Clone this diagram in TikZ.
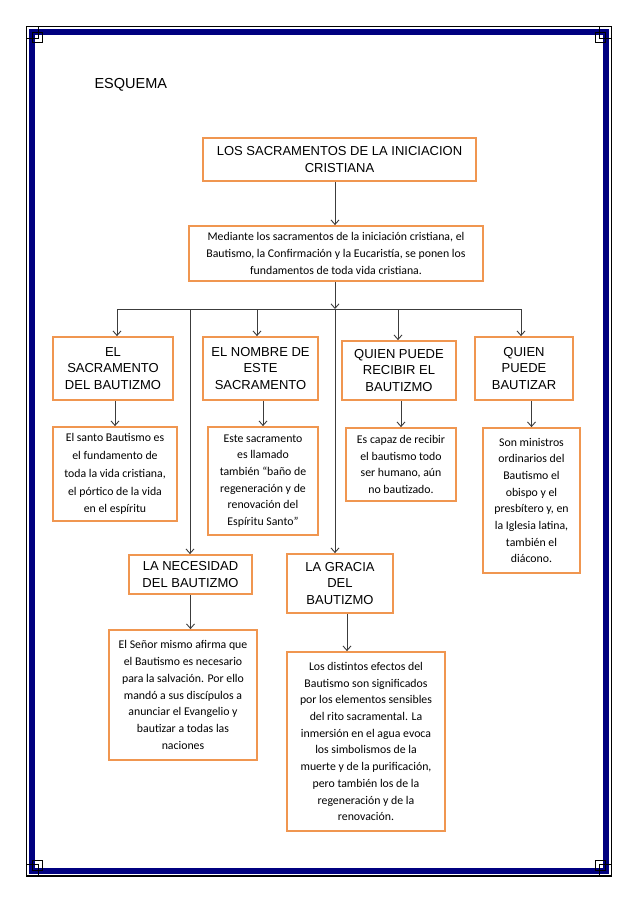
\documentclass[tikz,border=0pt]{standalone}
\usepackage{fontspec}
\usepackage{xcolor}
\usepackage{tikz}
\usetikzlibrary{arrows.meta,positioning}

\newfontfamily\arialf{Liberation Sans}
\newfontfamily\calibrif{Carlito}

\definecolor{boxorange}{RGB}{240,150,80}
\definecolor{framenavy}{RGB}{0,0,128}
\definecolor{lingray}{RGB}{60,60,60}

\tikzset{
  headbox/.style={draw=boxorange, line width=1.8pt, fill=white, align=center, inner sep=0pt,
    font=\arialf\fontsize{13}{16.7}\selectfont},
  notebox/.style={draw=boxorange, line width=1.8pt, fill=white, align=center, inner sep=0pt,
    font=\calibrif\fontsize{11.8}{16.7}\selectfont},
  arr/.style={draw=lingray, line width=0.9pt, -{Straight Barb[length=4.5pt,width=8pt]}},
  bus/.style={draw=lingray, line width=0.9pt}
}

\begin{document}
\begin{tikzpicture}[x=1pt,y=-1pt]

\useasboundingbox (0,0) rectangle (638,903);

% Page border
\draw[line width=1.2pt] (26.5,26.5) rectangle (611.5,876);
\draw[framenavy, line width=6pt] (32,32) rectangle (606,871);
\foreach \cx/\cy/\sx/\sy in {26.5/26.5/1/1, 611.5/26.5/-1/1, 26.5/876/1/-1, 611.5/876/-1/-1}{
  \draw[line width=1pt] (\cx,\cy) rectangle ++({12*\sx},{12*\sy});
  \draw[line width=1pt] ({\cx+6*\sx},{\cy+6*\sy}) rectangle ++({10*\sx},{10*\sy});
}

% Title
\node[anchor=west, font=\arialf\fontsize{14.5}{17}\selectfont] (esquema) at (91,85) {ESQUEMA};

% Top boxes
\node[headbox, minimum width=273pt, minimum height=43pt] (top) at (339.5,159.5)
  {LOS SACRAMENTOS DE LA INICIACION\\CRISTIANA};
\node[notebox, minimum width=294pt, minimum height=55pt] (mediante) at (336,253.5)
  {Mediante los sacramentos de la iniciación cristiana, el\\Bautismo, la Confirmación y la Eucaristía, se ponen los\\fundamentos de toda vida cristiana.};

% First row
\node[headbox, minimum width=120pt, minimum height=63pt] (sacr) at (113,368.5)
  {EL\\SACRAMENTO\\DEL BAUTIZMO};
\node[headbox, minimum width=115pt, minimum height=63pt] (nombre) at (260.5,368.5)
  {EL NOMBRE DE\\ESTE\\SACRAMENTO};
\node[headbox, minimum width=114pt, minimum height=59pt] (recibir) at (399,370.5)
  {QUIEN PUEDE\\RECIBIR EL\\BAUTIZMO};
\node[headbox, minimum width=98pt, minimum height=63pt] (bautizar) at (524,368.5)
  {QUIEN\\PUEDE\\BAUTIZAR};

\node[notebox, minimum width=124pt, minimum height=94pt, font=\calibrif\fontsize{11.8}{17.9}\selectfont] (sacrtxt) at (115,474)
  {El santo Bautismo es\\el fundamento de\\toda la vida cristiana,\\el pórtico de la vida\\en el espíritu};
\node[notebox, minimum width=110pt, minimum height=108pt] (nombretxt) at (263,481)
  {Este sacramento\\es llamado\\también “baño de\\regeneración y de\\renovación del\\Espíritu Santo”};
\node[notebox, minimum width=110pt, minimum height=73pt] (recibirtxt) at (401,464.5)
  {Es capaz de recibir\\el bautismo todo\\ser humano, aún\\no bautizado.};
\node[notebox, minimum width=97pt, minimum height=145pt] (bautizartxt) at (531.5,500.5)
  {Son ministros\\ordinarios del\\Bautismo el\\obispo y el\\presbítero y, en\\la Iglesia latina,\\también el\\diácono.};

% Second row
\node[headbox, minimum width=123pt, minimum height=39pt] (necesidad) at (190.5,574.5)
  {LA NECESIDAD\\DEL BAUTIZMO};
\node[headbox, minimum width=106pt, minimum height=59pt] (gracia) at (340,583.5)
  {LA GRACIA\\DEL\\BAUTIZMO};

\node[notebox, minimum width=148pt, minimum height=130pt] (necesidadtxt) at (183,695)
  {El Señor mismo afirma que\\el Bautismo es necesario\\para la salvación. Por ello\\mandó a sus discípulos a\\anunciar el Evangelio y\\bautizar a todas las\\naciones};
\node[notebox, minimum width=158pt, minimum height=179pt] (graciatxt) at (366,741.5)
  {Los distintos efectos del\\Bautismo son significados\\por los elementos sensibles\\del rito sacramental. La\\inmersión en el agua evoca\\los simbolismos de la\\muerte y de la purificación,\\pero también los de la\\regeneración y de la\\renovación.};

% Trunk and bus
\coordinate (trunk) at (335,309);
\coordinate (busL) at (117,309);
\coordinate (busR) at (521,309);
\draw[arr] (trunk |- top.south) -- (trunk |- mediante.north);
\draw[arr] (trunk |- mediante.south) -- (trunk);
\draw[bus] (busL) -- (busR);

% Branches
\foreach \x/\n in {117/sacr, 190/necesidad, 257/nombre, 335/gracia, 398/recibir, 521/bautizar}{
  \coordinate (b) at (\x,309);
  \draw[arr] (b) -- (b |- \n.north);
}

% Heading to text
\foreach \p/\c in {sacr/sacrtxt, nombre/nombretxt, recibir/recibirtxt, bautizar/bautizartxt}
  \draw[arr] (\p.south -| \c.north) -- (\c.north);
\draw[arr] (necesidad.south) -- (necesidad.south |- necesidadtxt.north);
\draw[arr] ([xshift=7pt]gracia.south) -- ([xshift=7pt]gracia.south |- graciatxt.north);

\end{tikzpicture}
\end{document}
